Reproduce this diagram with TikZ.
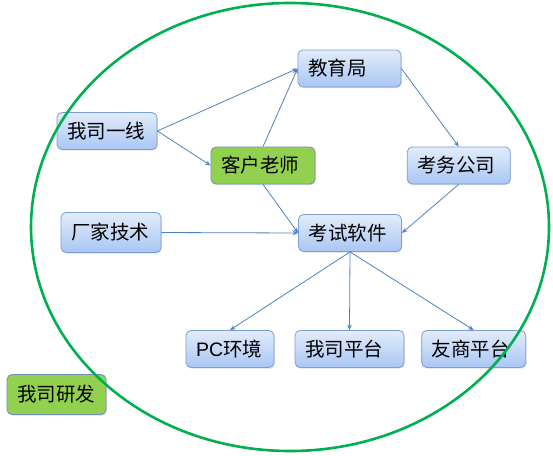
\documentclass[tikz,border=0pt]{standalone}
\usepackage{fontspec}
\setmainfont{Liberation Sans}
\newfontfamily\cjk{Noto Sans CJK SC}
\usetikzlibrary{arrows.meta,shadows}
\definecolor{boxtop}{HTML}{E2ECFB}
\definecolor{boxbot}{HTML}{A9C6F3}
\definecolor{boxline}{HTML}{7C9FD2}
\definecolor{greenfill}{HTML}{92D050}
\definecolor{greenline}{HTML}{6F8FB8}
\definecolor{arrowc}{HTML}{4F81BD}
\definecolor{ringc}{HTML}{00B050}
\tikzset{
  basebox/.style={line width=0.8pt, rounded corners=5pt, minimum height=37pt,
    inner xsep=10pt, inner ysep=2pt, align=left,
    font=\cjk\fontsize{19.5}{20}\selectfont,
    drop shadow={shadow xshift=0.8pt, shadow yshift=-1.2pt, opacity=0.25}},
  bluebox/.style={basebox, draw=boxline, top color=boxtop, bottom color=boxbot},
  greenbox/.style={basebox, draw=greenline, fill=greenfill},
  conn/.style={draw=arrowc, line width=0.8pt, -{Stealth[length=5.5pt,width=4.5pt]}}
}
\begin{document}
\begin{tikzpicture}[x=1pt,y=-1pt]
\useasboundingbox (0,0) rectangle (553,455);
\node[bluebox, text width=83pt] (jy) at (349.5,68.5) {教育局};
\node[bluebox, text width=80pt] (wo) at (107,131) {我司一线};
\node[greenbox, text width=84pt] (kh) at (263,165.5) {客户老师};
\node[bluebox, text width=83pt] (kw) at (458.7,165.5) {考务公司};
\node[bluebox, text width=83pt] (ks) at (350,233) {考试软件};
\node[bluebox, text width=80pt, minimum height=40pt] (cj) at (111,232.5) {厂家技术};
\node[bluebox, text width=68pt] (pc) at (230,349) {{\rmfamily PC}环境};
\node[bluebox, text width=89pt] (wp) at (349.5,349) {我司平台};
\node[bluebox, text width=84pt] (ys) at (473.7,349) {友商平台};
\node[greenbox, text width=79pt, minimum height=40pt] (yf) at (56.5,394.5) {我司研发};
\draw[conn] (wo.east) -- (jy.west);
\draw[conn] (wo.east) -- (kh.west);
\draw[conn] (kh.north) -- (jy.west);
\draw[conn] (kh.south) -- (ks.west);
\draw[conn] (jy.east) -- (kw.north);
\draw[conn] (kw.south) -- (ks.east);
\draw[conn] (cj.east) -- (ks.west);
\draw[conn] (ks.south) -- (pc.north);
\draw[conn] (ks.south) -- (wp.north);
\draw[conn] (ks.south) -- (ys.north);
\draw[ringc, line width=2.6pt] (290,227) ellipse [x radius=259, y radius=224];
\end{tikzpicture}
\end{document}
